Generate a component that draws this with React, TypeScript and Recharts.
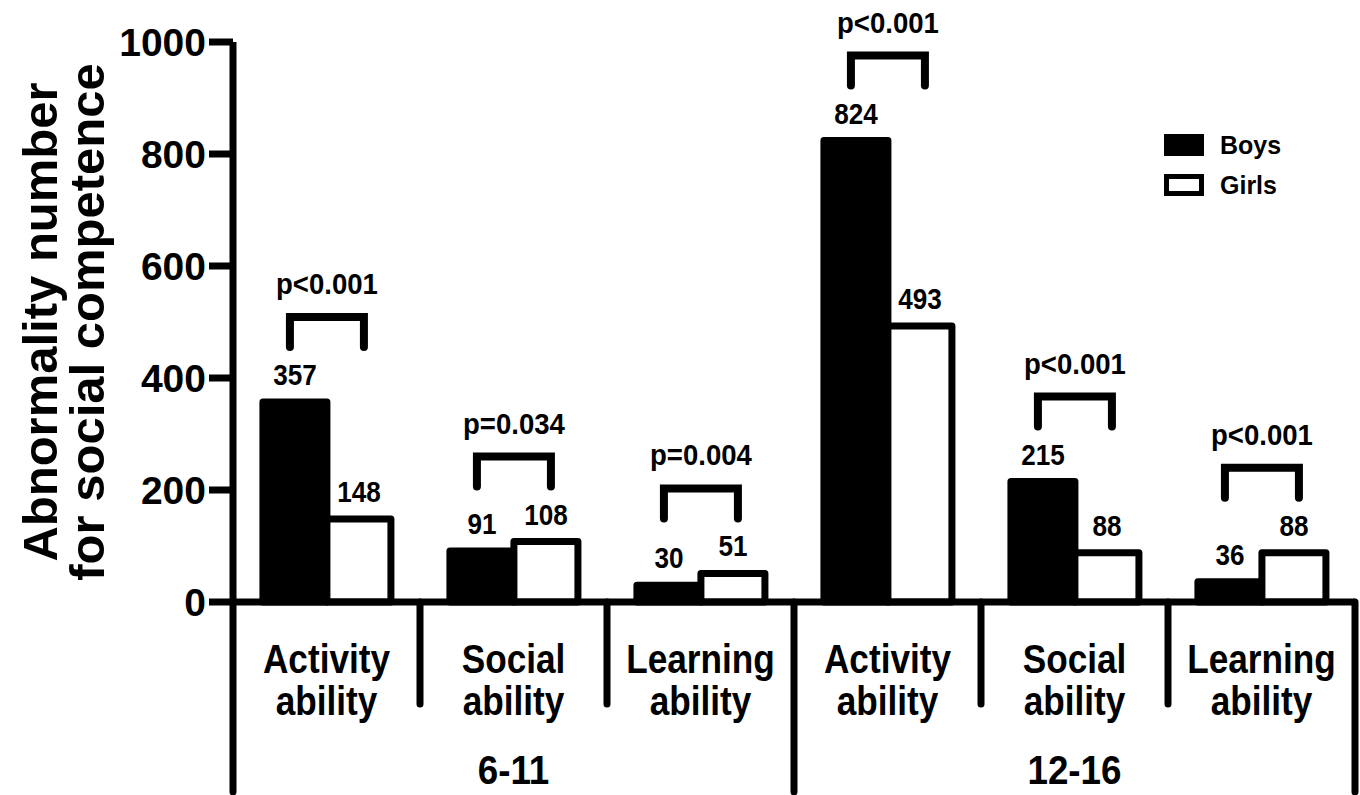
import { BarChart, Bar, XAxis, YAxis, Legend, LabelList, Label } from 'recharts';

const categories = [
  'Activity ability',
  'Social ability',
  'Learning ability',
  'Activity ability',
  'Social ability',
  'Learning ability',
];
const ageGroups = ['6-11', '6-11', '6-11', '12-16', '12-16', '12-16'];
const boys = [357, 91, 30, 824, 215, 36];
const girls = [148, 108, 51, 493, 88, 88];
const pValues = ['p<0.001', 'p=0.034', 'p=0.004', 'p<0.001', 'p<0.001', 'p<0.001'];
const yTicks = [0, 200, 400, 600, 800, 1000];

const data = categories.map((c, i) => ({
  id: 'c' + i,
  boys: boys[i],
  girls: girls[i],
  p: pValues[i],
}));

const FONT = "'Liberation Sans', Arial, Helvetica, sans-serif";

const Txt = ({ x, y, size, sx = 1, anchor = 'middle', children }: any) => (
  <text
    transform={`translate(${x},${y}) scale(${sx},1)`}
    textAnchor={anchor}
    fontFamily={FONT}
    fontWeight={700}
    fontSize={size}
    fill='#000'
  >
    {children}
  </text>
);

// label props differ a bit between versions, read the box either way
const box = (p: any) => {
  const v = p.viewBox || {};
  return {
    x: p.x ?? v.x,
    y: p.y ?? v.y,
    width: p.width ?? v.width,
    height: p.height ?? v.height,
  };
};

const renderYTick = (p: any) => (
  <Txt x={p.x} y={p.y + 14} size={39} anchor='end'>
    {p.payload.value}
  </Txt>
);

const renderCatTick = (p: any) => {
  const { x, y, payload } = p;
  const i = p.index ?? payload.index;
  const half = payload.offset;
  const left = x - half;
  const right = x + half;
  const startsGroup = i === 0 || ageGroups[i] !== ageGroups[i - 1];
  const isLast = i === categories.length - 1;
  const [l1, l2] = categories[i].split(' ');
  let groupLabel = null;
  if (startsGroup) {
    let n = 0;
    while (ageGroups[i + n] === ageGroups[i]) n++;
    groupLabel = (
      <Txt x={left + n * half} y={y + 182} size={40} sx={0.92}>
        {ageGroups[i]}
      </Txt>
    );
  }
  return (
    <g>
      <line
        x1={left}
        x2={left}
        y1={y}
        y2={y + (startsGroup ? 190 : 102)}
        stroke='#000'
        strokeWidth={7}
        strokeLinecap='round'
      />
      {isLast && (
        <line x1={right} x2={right} y1={y} y2={y + 190} stroke='#000' strokeWidth={7} strokeLinecap='round' />
      )}
      <Txt x={x} y={y + 71} size={40} sx={0.88}>
        {l1}
      </Txt>
      <Txt x={x} y={y + 113} size={40} sx={0.88}>
        {l2}
      </Txt>
      {groupLabel}
    </g>
  );
};

const renderValue = (p: any) => {
  const b = box(p);
  return (
    <Txt x={b.x + b.width / 2} y={b.y - 17} size={29} sx={0.9}>
      {p.value}
    </Txt>
  );
};

const renderBracket = (p: any) => {
  const b = box(p);
  const i = p.index;
  const base = b.y + b.height;
  const perUnit = b.height / boys[i];
  const top = base - Math.max(boys[i], girls[i]) * perUnit;
  const cx = b.x + b.width;
  const legL = cx - 37;
  const legR = cx + 37;
  const legEnd = top - 55;
  const barY = top - 85;
  return (
    <g>
      <path
        d={`M${legL},${legEnd} V${barY} H${legR} V${legEnd}`}
        fill='none'
        stroke='#000'
        strokeWidth={8}
        strokeLinecap='round'
      />
      <Txt x={cx} y={top - 108} size={29} sx={0.95}>
        {p.value}
      </Txt>
    </g>
  );
};

const renderYTitle = (p: any) => {
  const v = p.viewBox || { x: 0, y: 42, height: 560 };
  const cy = v.y + v.height / 2;
  return (
    <g fontFamily={FONT} fontWeight={700} fontSize={49} fill='#000'>
      <text transform={`translate(${v.x + 57},${cy}) rotate(-90)`} textAnchor='middle'>
        Abnormality number
      </text>
      <text transform={`translate(${v.x + 104},${cy}) rotate(-90)`} textAnchor='middle'>
        for social competence
      </text>
    </g>
  );
};

const renderLegend = (p: any) => (
  <div style={{ fontFamily: FONT, fontWeight: 700, fontSize: 25, color: '#000' }}>
    {(p.payload || []).map((e: any) => (
      <div key={e.value} style={{ display: 'flex', alignItems: 'center', height: 40 }}>
        <span
          style={{
            display: 'inline-block',
            boxSizing: 'border-box',
            width: 40,
            height: 22,
            background: e.dataKey === 'boys' ? '#000' : '#fff',
            border: '5px solid #000',
          }}
        />
        <span style={{ marginLeft: 16 }}>{e.value}</span>
      </div>
    ))}
  </div>
);

const App = () => {
  return (
    <div style={{ position: 'absolute', left: 0, top: 0, background: '#fff' }}>
      <BarChart
        width={1360}
        height={795}
        data={data}
        margin={{ top: 42, right: 5, bottom: 0, left: 0 }}
        barCategoryGap='16%'
        barGap={0}
      >
        <XAxis
          dataKey='id'
          height={193}
          interval={0}
          tickLine={false}
          tickSize={0}
          tickMargin={0}
          axisLine={{ stroke: '#000', strokeWidth: 7 }}
          tick={renderCatTick}
        />
        <YAxis
          width={233}
          domain={[0, 1000]}
          ticks={yTicks}
          interval={0}
          tickSize={24}
          tickMargin={3}
          axisLine={{ stroke: '#000', strokeWidth: 7 }}
          tickLine={{ stroke: '#000', strokeWidth: 7 }}
          tick={renderYTick}
        >
          <Label content={renderYTitle} />
        </YAxis>
        <Legend
          layout='vertical'
          align='center'
          verticalAlign='middle'
          content={renderLegend}
          wrapperStyle={{ left: 1164, top: 125, width: 190 }}
        />
        <Bar
          dataKey='boys'
          name='Boys'
          fill='#000'
          stroke='#000'
          strokeWidth={7}
          strokeLinejoin='round'
          isAnimationActive={false}
        >
          <LabelList dataKey='boys' content={renderValue} />
          <LabelList dataKey='p' content={renderBracket} />
        </Bar>
        <Bar
          dataKey='girls'
          name='Girls'
          fill='#fff'
          stroke='#000'
          strokeWidth={7}
          strokeLinejoin='round'
          isAnimationActive={false}
        >
          <LabelList dataKey='girls' content={renderValue} />
        </Bar>
      </BarChart>
    </div>
  );
};

export default App;
